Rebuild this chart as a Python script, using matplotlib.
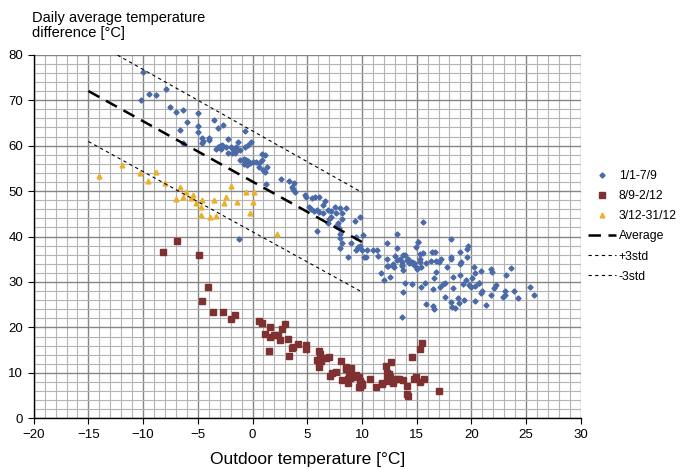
import numpy as np
import matplotlib
matplotlib.use("Agg")
import matplotlib.pyplot as plt
from matplotlib.ticker import MultipleLocator

plt.rcParams['font.family'] = ['Liberation Sans', 'DejaVu Sans']

# series 1/1-7/9 (outdoor temp, temp difference)
blue_pts = [
    (-10.0, 76.1), (-10.2, 70.0), (-9.5, 71.4), (-8.8, 71.2), (-7.9, 72.5), (-7.5, 68.6), (-7.0, 67.5),
    (-6.4, 67.8), (-5.0, 67.1), (-6.0, 65.2), (-6.6, 63.4), (-5.0, 64.3), (-5.0, 63.1), (-3.5, 65.6),
    (-2.7, 64.6), (-3.2, 63.9), (-6.4, 60.5), (-4.6, 61.7), (-4.0, 61.7), (-4.0, 61.2), (-4.6, 60.6),
    (-4.5, 61.0), (-2.2, 61.5), (-1.3, 60.9), (-0.1, 60.9), (-0.7, 63.3),
    (-3.2, 59.6), (-3.0, 59.9), (-2.9, 59.3), (-3.3, 59.2), (-2.8, 60.1), (-2.4, 59.6), (-2.0, 59.6),
    (-1.8, 59.3), (-1.5, 59.6), (-1.4, 59.0), (-2.2, 58.3), (-1.9, 58.3), (-1.6, 58.4), (-1.1, 59.0),
    (-0.7, 59.6), (-0.4, 60.1),
    (-1.1, 56.8), (-0.8, 57.0), (-0.6, 56.8), (-0.4, 56.7), (-0.7, 56.1), (-0.5, 55.7), (-0.2, 56.2),
    (0.0, 56.4), (0.3, 56.5), (0.6, 56.2), (0.9, 56.8), (1.1, 57.9), (0.9, 58.2), (0.6, 55.2),
    (1.3, 55.2), (1.1, 54.3), (-0.8, 55.9),
    (1.0, 54.6), (1.2, 51.6), (2.6, 52.6), (3.3, 52.3), (3.8, 51.8), (3.6, 51.0), (3.7, 50.4),
    (3.9, 49.9), (4.8, 49.1), (4.9, 48.6), (5.4, 48.4), (5.7, 48.6), (6.1, 48.8), (6.4, 46.9), (6.6, 47.9),
    (5.2, 46.6), (5.3, 46.0), (5.6, 45.7), (5.9, 45.8), (6.1, 45.5), (6.4, 45.1), (6.9, 45.8),
    (7.2, 45.7), (7.5, 46.4), (8.0, 46.2), (8.5, 46.2), (8.2, 45.1), (7.6, 45.1), (7.2, 44.4),
    (7.0, 43.8), (6.9, 42.9), (7.8, 43.0), (7.6, 42.3), (7.9, 41.8), (8.2, 43.8), (9.4, 43.4),
    (9.8, 44.2), (5.9, 41.3),
    (8.0, 40.6), (8.0, 39.6), (8.2, 38.6), (8.0, 37.4), (8.7, 35.4), (9.0, 38.5), (9.5, 40.0),
    (9.6, 37.6), (9.8, 37.9), (9.5, 37.0), (10.0, 37.0), (10.5, 37.0), (10.4, 35.6), (10.2, 35.6),
    (11.0, 37.0), (11.4, 37.0), (11.5, 35.8), (10.1, 40.3),
    (11.7, 31.9), (12.3, 35.0), (12.3, 33.5), (12.6, 31.0), (12.8, 33.9), (13.0, 35.7), (13.2, 37.4),
    (13.2, 40.5), (12.8, 33.5), (12.9, 33.2), (13.2, 34.8), (13.5, 35.0), (13.8, 35.9), (13.7, 33.5),
    (14.1, 34.8), (14.3, 34.1), (14.6, 34.5), (14.8, 34.1), (14.9, 37.8), (15.0, 33.0), (15.3, 35.0),
    (15.1, 38.9),
    (15.6, 43.1), (18.1, 39.5), (19.7, 37.9), (19.6, 37.3), (19.0, 36.6), (15.1, 38.8),
    (13.9, 36.0), (14.2, 35.0), (13.7, 34.5), (13.7, 33.7), (13.8, 32.6),
    (15.3, 36.1), (15.6, 36.3), (16.4, 36.5), (16.7, 36.7), (14.4, 34.4), (14.6, 34.1), (14.8, 33.7),
    (15.3, 34.4), (15.4, 33.4), (15.0, 32.9), (15.9, 34.2), (16.3, 34.6), (16.8, 34.7), (17.2, 35.0),
    (17.0, 34.5),
    (18.1, 35.4), (18.1, 35.0), (19.1, 34.5), (19.0, 33.9), (19.6, 35.4), (17.8, 33.2), (16.8, 32.3),
    (16.6, 30.9), (18.3, 31.2), (19.0, 31.6), (19.5, 30.4), (20.2, 33.4), (20.3, 32.0), (20.9, 32.5),
    (20.1, 30.9), (20.7, 29.8),
    (21.8, 32.9), (21.9, 32.3), (23.6, 33.0), (23.2, 31.5), (22.3, 29.4), (22.1, 28.6), (21.0, 28.1),
    (20.9, 27.6), (21.8, 27.1), (22.9, 26.6), (23.1, 27.1), (23.1, 28.1), (23.9, 28.0), (24.3, 26.5),
    (25.4, 29.0), (25.7, 27.2),
    (13.9, 29.7), (14.6, 29.5), (15.4, 29.0), (15.8, 29.8), (16.5, 28.5), (17.1, 29.0), (17.4, 29.5),
    (17.6, 29.7), (18.3, 28.7), (19.2, 29.5), (19.8, 29.4), (20.0, 29.0), (20.3, 29.1), (20.7, 29.8),
    (17.6, 26.6), (18.1, 25.7), (18.8, 26.4), (19.3, 26.0), (20.3, 25.9), (21.3, 25.0), (15.9, 25.2),
    (16.5, 24.7), (16.6, 24.0), (18.2, 24.5), (18.5, 24.3), (18.9, 25.4), (13.7, 22.4), (13.8, 27.9),
    (12.3, 38.5), (12.0, 30.4), (12.4, 33.5), (-1.2, 39.5),
]

# series 8/9-2/12
red_pts = [
    (-6.9, 39.1), (-8.2, 36.6), (-4.9, 36.0), (-4.1, 29.0), (-4.6, 25.9), (-3.6, 23.5), (-2.7, 23.3),
    (-2.0, 21.8), (-1.6, 22.7), (0.6, 21.5), (0.9, 21.0), (1.6, 20.2), (3.0, 20.7), (2.7, 19.6),
    (1.1, 18.6), (1.6, 18.0), (2.0, 18.3), (2.3, 18.4), (2.5, 17.2), (3.2, 17.5), (4.2, 16.3),
    (4.9, 16.1), (4.9, 15.3), (3.7, 15.6), (3.6, 15.4), (1.5, 14.9), (3.3, 13.7), (6.1, 14.9),
    (6.2, 14.1), (5.9, 12.8), (6.1, 12.2), (6.4, 13.3), (6.7, 13.2), (7.0, 13.6), (6.3, 12.7),
    (6.1, 11.4), (8.1, 12.6), (8.5, 11.4), (9.0, 11.1), (8.5, 10.8), (7.6, 10.3), (7.3, 9.9),
    (7.1, 9.3), (8.2, 8.4), (8.8, 9.7), (8.9, 8.9), (9.1, 9.0), (8.7, 8.6), (9.5, 9.5), (9.7, 9.2),
    (9.8, 8.3), (10.0, 7.5), (9.7, 7.0), (10.0, 7.4), (8.7, 7.7), (10.7, 8.7), (11.3, 6.8),
    (11.8, 7.7), (12.2, 11.6), (12.7, 12.4), (12.3, 9.9), (12.5, 9.7), (12.6, 9.0), (12.3, 8.6),
    (12.4, 8.2), (12.8, 7.8), (13.2, 8.6), (13.4, 8.7), (13.8, 8.4), (14.1, 7.1), (14.1, 5.3),
    (14.2, 5.0), (14.9, 9.1), (14.8, 8.7), (15.3, 8.0), (15.7, 8.7), (14.6, 13.6), (15.3, 15.3),
    (15.5, 16.6), (17.0, 6.0), (11.8, 7.5), (9.9, 7.7), (9.8, 7.0),
]

# series 3/12-31/12
yellow_pts = [
    (-14.0, 53.4), (-11.9, 55.7), (-10.3, 54.0), (-9.6, 52.3), (-8.8, 54.2), (-8.0, 51.8), (-6.6, 50.9),
    (-7.0, 48.3), (-6.4, 48.8), (-6.1, 49.9), (-5.6, 48.5), (-5.4, 49.2), (-5.2, 47.4), (-4.6, 48.0),
    (-4.7, 46.6), (-4.7, 44.7), (-3.9, 44.4), (-3.3, 44.6), (-3.5, 48.0), (-2.6, 47.3), (-2.4, 48.6),
    (-1.4, 47.7), (-2.0, 51.1), (-0.6, 49.9), (0.1, 49.8), (0.0, 47.7), (-0.2, 45.2), (2.2, 40.5),
]

# regression line and +/-3 std band
line_x = [-15, 10]
avg_y = [72.0, 38.8]
plus3_y = [83.5, 49.7]
minus3_y = [60.9, 27.8]

fig = plt.figure(figsize=(6.8, 4.69), dpi=100)
ax = fig.add_axes([0.0496, 0.108, 0.8044, 0.7754])

bx, by = np.array(blue_pts).T
rx, ry = np.array(red_pts).T
yx, yy = np.array(yellow_pts).T

ax.plot(bx, by, 'D', color='#4a6aa8', ms=2.6, mec='#4a6aa8', label='1/1-7/9', zorder=3)
ax.plot(rx, ry, 's', color='#7f3030', ms=3.8, label='8/9-2/12', zorder=3)
ax.plot(yx, yy, '^', color='#ebb02c', ms=3.5, label='3/12-31/12', zorder=3)
ax.plot(line_x, avg_y, color='black', lw=1.8, dashes=(5, 3), label='Average', zorder=4)
ax.plot(line_x, plus3_y, color='black', lw=0.8, dashes=(3, 3), label='+3std', zorder=4)
ax.plot(line_x, minus3_y, color='black', lw=0.8, dashes=(3, 3), label='-3std', zorder=4)

ax.set_xlim(-20, 30)
ax.set_ylim(0, 80)
ax.xaxis.set_major_locator(MultipleLocator(5))
ax.xaxis.set_minor_locator(MultipleLocator(1))
ax.yaxis.set_major_locator(MultipleLocator(10))
ax.yaxis.set_minor_locator(MultipleLocator(2))
ax.grid(which='minor', color='#b4b4b4', lw=0.8)
ax.grid(which='major', color='#858585', lw=1.0)
ax.set_axisbelow(True)
ax.tick_params(which='minor', length=0)
ax.tick_params(which='major', direction='out', length=4, width=0.8, labelsize=9.5, colors='black')
for s in ['top', 'right']:
    ax.spines[s].set_visible(False)
for s in ['left', 'bottom']:
    ax.spines[s].set_linewidth(1.0)
    ax.spines[s].set_color('black')

ax.set_xlabel('Outdoor temperature [°C]', fontsize=12.5, labelpad=8)
fig.text(0.047, 0.915, 'Daily average temperature\ndifference [°C]', fontsize=10.5,
         ha='left', va='bottom', linespacing=1.1)

ax.legend(loc='upper left', bbox_to_anchor=(0.865, 0.637), bbox_transform=fig.transFigure,
          frameon=False, fontsize=8.8, handlelength=2.3, handletextpad=0.2,
          labelspacing=0.66, borderaxespad=0, borderpad=0)

fig.savefig('out.png', dpi=100)
